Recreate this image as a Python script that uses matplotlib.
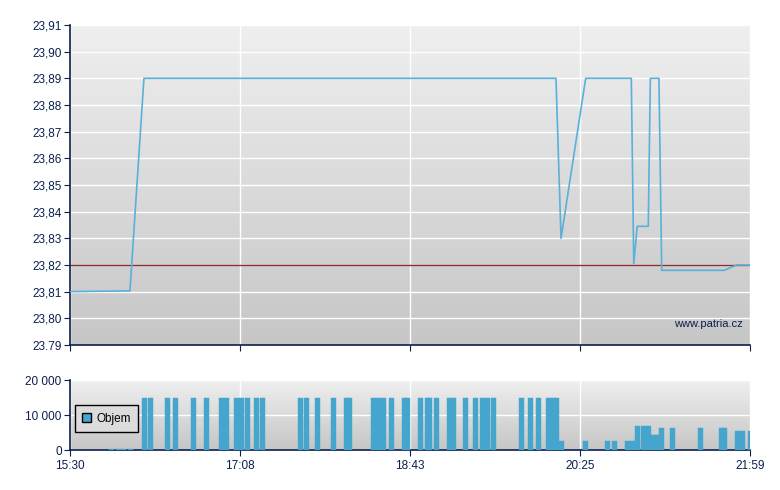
import numpy as np
import matplotlib
matplotlib.use("Agg")
import matplotlib.pyplot as plt
from matplotlib.patches import Patch

plt.rcParams['font.family'] = ['Liberation Sans', 'DejaVu Sans']

# minutes after 15:30
price_t = [0, 34.3, 42.3, 278.0, 280.9, 295.0, 321.1, 322.5, 324.5, 330.8,
           332.0, 336.9, 338.5, 374.3, 381.4, 389]
price_v = [23.81, 23.8103, 23.89, 23.89, 23.83, 23.89, 23.89, 23.8205, 23.8345, 23.8345,
           23.89, 23.89, 23.818, 23.818, 23.82, 23.82]
ref_price = 23.82

vol_t = [22.3, 26.3, 29.2, 32.9,
         41.2, 44.6, 54.3, 58.8, 69.2, 76.7, 85.2, 88.1, 93.8, 96.7,
         100.1, 105.3, 108.7, 130.4, 133.9, 140.2, 149.3, 156.7, 158.4,
         172.2, 175.0, 177.9, 182.5, 189.9, 191.4, 199.1, 203.1, 204.2,
         208.2, 215.7, 218.0, 224.8, 230.5, 234.5, 237.4, 240.8,
         256.9, 262.0, 266.6, 272.3, 274.6, 276.9,
         279.7, 293.5, 306.0, 310.0, 317.5, 320.3,
         323.2, 326.4, 329.5, 332.4, 334.1, 337.0, 343.2, 359.3,
         371.3, 373.0, 380.4, 383.3, 387.9]
vol_v = [300, 300, 300, 300,
         15000, 15000, 15000, 15000, 15000, 15000, 15000, 15000, 15000, 15000,
         15000, 15000, 15000, 15000, 15000, 15000, 15000, 15000, 15000,
         15000, 15000, 15000, 15000, 15000, 15000, 15000, 15000, 15000,
         15000, 15000, 15000, 15000, 15000, 15000, 15000, 15000,
         15000, 15000, 15000, 15000, 15000, 15000,
         2500, 2500, 2500, 2500, 2500, 2500,
         7000, 7000, 7000, 4300, 4300, 6300, 6300, 6300,
         6300, 6300, 5500, 5500, 5500]

x_ticks = [0, 97.25, 194.5, 291.75, 389]
x_labels = ['15:30', '17:08', '18:43', '20:25', '21:59']
y_ticks = [23.79, 23.80, 23.81, 23.82, 23.83, 23.84, 23.85, 23.86, 23.87, 23.88, 23.89, 23.90, 23.91]
y_labels = ['23.79', '23,80', '23,81', '23,82', '23,83', '23,84', '23,85', '23,86', '23,87',
            '23,88', '23,89', '23,90', '23,91']
v_ticks = [0, 10000, 20000]
v_labels = ['0', '10 000', '20 000']

navy = '#0a1f4d'
grad = np.linspace(0, 1, 256).reshape(-1, 1)
grey = matplotlib.colors.LinearSegmentedColormap.from_list('g', ['#efefef', '#c6c6c6'])

fig = plt.figure(figsize=(7.8, 4.9), dpi=100)
ax = fig.add_axes([70/780, 145/490, 680/780, 320/490])
axv = fig.add_axes([70/780, 40/490, 680/780, 70/490])


def style(a, xmax, ylo, yhi):
    a.imshow(grad, cmap=grey, aspect='auto', extent=[0, xmax, ylo, yhi],
             origin='upper', zorder=0)
    a.set_xlim(0, xmax)
    a.set_ylim(ylo, yhi)
    for s in ['top', 'right']:
        a.spines[s].set_visible(False)
    for s in ['left', 'bottom']:
        a.spines[s].set_color(navy)
        a.spines[s].set_linewidth(1.2)
    a.tick_params(colors=navy, labelcolor=navy, labelsize=8.5, length=4, direction='out')
    a.tick_params(axis='y', pad=2)
    a.grid(True, color='white', linewidth=1, zorder=1)
    a.set_axisbelow(True)


style(ax, 389, 23.79, 23.91)
ax.set_xticks(x_ticks)
ax.set_xticklabels([])
ax.set_yticks(y_ticks)
ax.set_yticklabels(y_labels)
ax.axhline(ref_price, color='#8a2f35', linewidth=1, zorder=2)
ax.plot(price_t, price_v, color='#5ab0d8', linewidth=1.2, zorder=3)
ax.text(0.99, 0.065, 'www.patria.cz', transform=ax.transAxes, ha='right', va='center',
        color=navy, fontsize=8)

style(axv, 389, 0, 20000)
axv.bar(vol_t, vol_v, width=2.9, align='edge', color='#45a5cd', edgecolor='#45a5cd',
        linewidth=0.3, zorder=3)
axv.set_xticks(x_ticks)
axv.set_xticklabels(x_labels)
axv.set_yticks(v_ticks)
axv.set_yticklabels(v_labels)
leg = axv.legend(handles=[Patch(facecolor='#45a5cd', edgecolor='black', label='Objem')],
                 loc='center left', bbox_to_anchor=(0.007, 0.45), fontsize=8.5,
                 frameon=True, fancybox=False, handlelength=0.8, handleheight=0.8,
                 handletextpad=0.4, borderpad=0.6, borderaxespad=0)
leg.get_frame().set_edgecolor('black')
leg.get_frame().set_facecolor('#dcdcdc')
leg.get_frame().set_alpha(1)
for t in leg.get_texts():
    t.set_color('black')

fig.savefig('out.png', dpi=100)
